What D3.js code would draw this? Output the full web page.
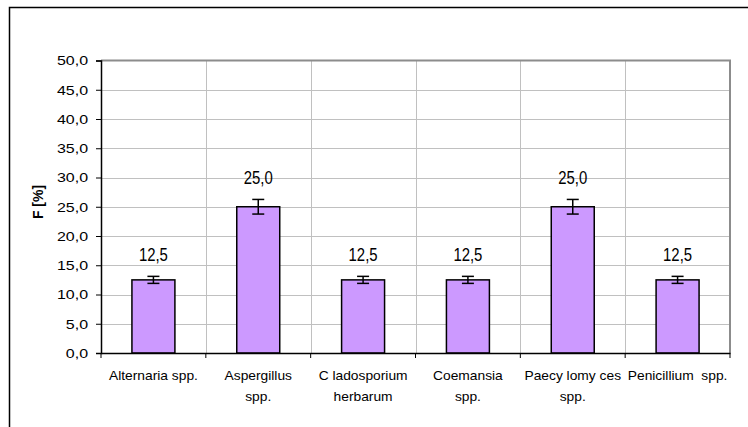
<!DOCTYPE html>
<html>
<head>
<meta charset="utf-8">
<script src="https://cdn.jsdelivr.net/npm/d3@7"></script>
<style>
  body { margin: 0; background: #fff; }
  svg { display: block; }
  .tick text { font-family: Arial, "Liberation Sans", sans-serif; fill: #000; }
</style>
</head>
<body>
<svg id="chart" width="748" height="427"></svg>
<script>
// chart data
var categories = [
  ['Alternaria spp.'],
  ['Aspergillus', 'spp.'],
  ['C ladosporium', 'herbarum'],
  ['Coemansia', 'spp.'],
  ['Paecy lomy ces', 'spp.'],
  ['Penicillium  spp.']
];
var values = [12.5, 25.0, 12.5, 12.5, 25.0, 12.5];
var errors = [0.6, 1.25, 0.6, 0.6, 1.25, 0.6];
var yTicks = [0, 5, 10, 15, 20, 25, 30, 35, 40, 45, 50];

var margin = {left: 101, top: 60.5, right: 18, bottom: 74};
var width = 748, height = 427;
var stretch = 1.2; // the reference text is drawn wide

var svg = d3.select('#chart');

// outer frame (only left and top visible)
svg.append('path')
  .attr('d', 'M9.5,427 L9.5,7.5 L748,7.5')
  .attr('fill', 'none')
  .attr('stroke', '#000')
  .attr('stroke-width', 1.5);

var x = d3.scaleBand()
  .domain(d3.range(categories.length))
  .range([margin.left, width - margin.right])
  .paddingInner(0)
  .paddingOuter(0);

var y = d3.scaleLinear()
  .domain([0, 50])
  .range([height - margin.bottom, margin.top]);

var plotL = margin.left, plotR = width - margin.right,
    plotT = margin.top, plotB = height - margin.bottom;

// grid
var grid = svg.append('g').attr('class', 'grid');
grid.selectAll('line.h').data(yTicks.slice(1, -1)).enter().append('line')
  .attr('class', 'h')
  .attr('x1', plotL).attr('x2', plotR)
  .attr('y1', function(d){ return Math.round(y(d)) + 0.5; })
  .attr('y2', function(d){ return Math.round(y(d)) + 0.5; })
  .attr('stroke', '#c0c0c0');
grid.selectAll('line.v').data(d3.range(1, categories.length)).enter().append('line')
  .attr('class', 'v')
  .attr('x1', function(d){ return Math.round(x(d)) + 0.5; })
  .attr('x2', function(d){ return Math.round(x(d)) + 0.5; })
  .attr('y1', plotT).attr('y2', plotB)
  .attr('stroke', '#c0c0c0');

// top and right plot border (gray)
svg.append('path')
  .attr('d', 'M' + plotL + ',' + plotT + ' L' + plotR + ',' + plotT + ' L' + plotR + ',' + plotB)
  .attr('fill', 'none')
  .attr('stroke', '#8c8c8c')
  .attr('stroke-width', 2);

// bars
var barW = x.bandwidth() * 0.41;
svg.append('g').selectAll('rect').data(values).enter().append('rect')
  .attr('x', function(d, i){ return x(i) + (x.bandwidth() - barW) / 2; })
  .attr('y', function(d){ return y(d); })
  .attr('width', barW)
  .attr('height', function(d){ return y(0) - y(d); })
  .attr('fill', '#cc99ff')
  .attr('stroke', '#000')
  .attr('stroke-width', 1.5);

// error bars
var eb = svg.append('g').attr('stroke', '#000').attr('stroke-width', 1.5);
values.forEach(function(v, i){
  var cx = x(i) + x.bandwidth() / 2;
  var y1 = y(v + errors[i]), y2 = y(v - errors[i]);
  eb.append('line').attr('x1', cx).attr('x2', cx).attr('y1', y1).attr('y2', y2);
  eb.append('line').attr('x1', cx - 6).attr('x2', cx + 6).attr('y1', y1).attr('y2', y1);
  eb.append('line').attr('x1', cx - 6).attr('x2', cx + 6).attr('y1', y2).attr('y2', y2);
});

// value labels (narrow look)
svg.append('g').selectAll('text').data(values).enter().append('text')
  .attr('x', function(d, i){ return x(i) + x.bandwidth() / 2; })
  .attr('y', function(d, i){ return y(d + errors[i]) - 15.5; })
  .attr('text-anchor', 'middle')
  .attr('font-family', 'Arial, "Liberation Sans", sans-serif')
  .attr('font-size', 18.5)
  .attr('textLength', 29)
  .attr('lengthAdjust', 'spacingAndGlyphs')
  .text(function(d){ return d.toFixed(1).replace('.', ','); });

// y axis
var yAxis = svg.append('g')
  .attr('transform', 'translate(' + plotL + ',0)')
  .call(d3.axisLeft(y).tickValues(yTicks).tickSize(5).tickPadding(5.8)
    .tickFormat(function(d){ return d.toFixed(1).replace('.', ','); }));
yAxis.select('.domain').attr('stroke', '#000').attr('stroke-width', 1.5);
yAxis.selectAll('.tick line').attr('stroke', '#000');
yAxis.selectAll('.tick text')
  .attr('font-size', 13.3)
  .attr('transform', 'scale(' + stretch + ',1)');

// x axis
var xAxis = svg.append('g')
  .attr('transform', 'translate(0,' + plotB + ')')
  .call(d3.axisBottom(x).tickSize(0).tickFormat(''));
xAxis.select('.domain').attr('stroke', '#000').attr('stroke-width', 1.5);
xAxis.selectAll('line.sep').data(d3.range(categories.length + 1)).enter().append('line')
  .attr('class', 'sep')
  .attr('x1', function(d){ return d < categories.length ? x(d) : plotR; })
  .attr('x2', function(d){ return d < categories.length ? x(d) : plotR; })
  .attr('y1', 0).attr('y2', 5)
  .attr('stroke', '#000');

var xl = svg.append('g');
categories.forEach(function(lines, i){
  var cx = x(i) + x.bandwidth() / 2;
  var g = xl.append('g')
    .attr('transform', 'translate(' + cx + ',' + (plotB + 27) + ') scale(1.15,1)');
  var t = g.append('text')
    .attr('text-anchor', 'middle')
    .attr('font-family', 'Arial, "Liberation Sans", sans-serif')
    .attr('font-size', 12)
    .style('white-space', 'pre');
  lines.forEach(function(s, j){
    t.append('tspan')
      .attr('x', 0)
      .attr('dy', j === 0 ? 0 : 21.5)
      .text(s);
  });
});

// y axis title
svg.append('text')
  .attr('transform', 'translate(43,' + 202 + ') rotate(-90)')
  .attr('text-anchor', 'middle')
  .attr('font-family', 'Arial, "Liberation Sans", sans-serif')
  .attr('font-weight', 'bold')
  .attr('font-size', 14)
  .text('F [%]');
</script>
</body>
</html>
